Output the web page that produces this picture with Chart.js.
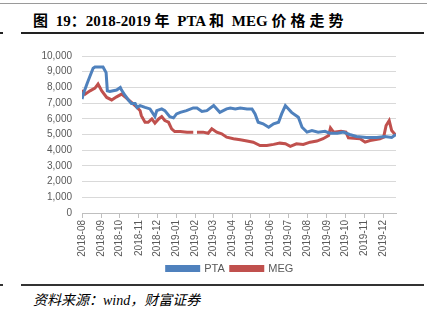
<!DOCTYPE html>
<html><head><meta charset="utf-8">
<script src="https://cdn.jsdelivr.net/npm/chart.js@4/dist/chart.umd.min.js"></script>
<style>
html,body{margin:0;padding:0;background:#fff;width:427px;height:323px;overflow:hidden;position:relative;}
.t{position:absolute;left:33px;top:9px;font:bold 15px "Liberation Serif","Noto Sans CJK SC",serif;color:#000;white-space:nowrap;}
.t .c{letter-spacing:4px;}
.s{position:absolute;left:33px;top:289px;font:italic 14px "Liberation Serif","Noto Sans CJK SC",serif;color:#000;white-space:nowrap;}
.ln{position:absolute;}
#wrap{position:absolute;left:0;top:40px;width:427px;height:244px;}
</style></head><body>
<div class="ln" style="left:0;top:3px;width:427px;height:1px;background:#9a9a9a"></div>
<div class="t"><span class="c">图</span> 19：2018-2019 <span class="c">年</span> PTA <span class="c">和</span> MEG <span class="c">价格走势</span></div>
<div class="ln" style="left:21px;top:32px;width:403px;height:2px;background:#222"></div>
<div class="ln" style="left:0;top:32px;width:3px;height:2px;background:#222"></div>
<div id="wrap"><canvas id="c"></canvas></div>
<div class="ln" style="left:21px;top:284px;width:403px;height:2px;background:#333"></div>
<div class="ln" style="left:0;top:284px;width:3px;height:2px;background:#333"></div>
<div class="s">资料来源：wind，财富证券</div>
<script>
const tickLabels = ['2018-08','2018-09','2018-10','2018-11','2018-12','2019-01','2019-02','2019-03','2019-04','2019-05','2019-06','2019-07','2019-08','2019-09','2019-10','2019-11','2019-12'];
const yTicks = [0,1000,2000,3000,4000,5000,6000,7000,8000,9000,10000];
const ptaDates = ['2018-08-01','2018-08-03','2018-08-09','2018-08-11','2018-08-14','2018-08-19','2018-08-22','2018-09-04','2018-09-09','2018-09-11','2018-09-15','2018-09-26','2018-10-02','2018-10-04','2018-10-10','2018-10-15','2018-10-20','2018-10-26','2018-10-29','2018-11-03','2018-11-11','2018-11-19','2018-11-27','2018-11-30','2018-12-08','2018-12-13','2018-12-21','2018-12-27','2019-01-01','2019-01-07','2019-01-17','2019-01-28','2019-02-03','2019-02-11','2019-02-19','2019-03-02','2019-03-12','2019-03-23','2019-03-29','2019-04-06','2019-04-14','2019-04-25','2019-05-03','2019-05-08','2019-05-13','2019-05-21','2019-05-30','2019-06-07','2019-06-15','2019-06-20','2019-06-26','2019-07-06','2019-07-17','2019-07-23','2019-07-31','2019-08-08','2019-08-18','2019-08-29','2019-09-06','2019-09-18','2019-09-28','2019-10-08','2019-10-19','2019-11-04','2019-11-21','2019-12-04','2019-12-15','2019-12-22'];
const ptaValues = [7260,7570,8210,8420,8730,9220,9300,9300,8940,7780,7740,7830,7990,7830,7470,7200,6980,6980,6730,6840,6730,6630,6140,6520,6630,6520,6140,6060,6310,6410,6520,6690,6690,6470,6520,6840,6410,6630,6690,6630,6690,6630,6630,6310,5780,5680,5460,5680,5780,6310,6840,6410,6100,5460,5150,5250,5150,5200,5080,5080,5150,5000,4870,4810,4810,4870,4810,5000];
const megDates = ['2018-08-01','2018-08-06','2018-08-14','2018-08-22','2018-08-27','2018-09-02','2018-09-10','2018-09-18','2018-09-26','2018-10-04','2018-10-12','2018-10-20','2018-10-29','2018-11-03','2018-11-05','2018-11-11','2018-11-16','2018-11-22','2018-11-27','2018-12-03','2018-12-08','2018-12-13','2018-12-19','2018-12-24','2018-12-29','2019-01-07','2019-01-18','2019-01-28','2019-01-31','2019-02-03','2019-02-13','2019-02-21','2019-02-27','2019-03-07','2019-03-15','2019-03-23','2019-04-03','2019-04-14','2019-04-25','2019-05-05','2019-05-16','2019-05-27','2019-06-07','2019-06-17','2019-06-26','2019-07-04','2019-07-14','2019-07-25','2019-08-05','2019-08-16','2019-08-26','2019-09-04','2019-09-07','2019-09-12','2019-09-24','2019-10-02','2019-10-06','2019-10-25','2019-11-02','2019-11-10','2019-11-26','2019-12-02','2019-12-06','2019-12-11','2019-12-15','2019-12-22'];
const megValues = [7830,7570,7780,7950,8210,7780,7360,7200,7400,7570,7320,7040,6730,6520,6200,5780,5780,5990,5720,5990,6140,5890,5780,5360,5190,5190,5150,5150,null,5150,5150,5080,5360,5150,5040,4830,4730,4660,4580,4510,4300,4300,4370,4450,4410,4240,4410,4370,4510,4580,4730,4940,5420,5150,5210,5150,4790,4730,4510,4620,4730,4830,5570,5890,5250,4940];

const origin = Date.UTC(2018,7,1);
const dayOf = s => { const p = s.split('-').map(Number); return (Date.UTC(p[0],p[1]-1,p[2]||1)-origin)/86400000; };
const monthTicks = tickLabels.map(dayOf);
const toPts = (d,v) => d.map((s,i)=>({x:dayOf(s), y:v[i]}));

const legendShift = {
  id:'legendShift',
  afterLayout(chart){ const l = chart.legend; if (l) { l.left += 32; l.right += 32; } }
};

new Chart(document.getElementById('c'), {
  type:'line',
  plugins:[legendShift],
  data:{datasets:[
    {label:'PTA', data:toPts(ptaDates,ptaValues), borderColor:'#4F81BD', backgroundColor:'#4F81BD', borderWidth:3, pointRadius:0, tension:0, spanGaps:false},
    {label:'MEG', data:toPts(megDates,megValues), borderColor:'#C0504D', backgroundColor:'#C0504D', borderWidth:3, pointRadius:0, tension:0, spanGaps:false}
  ]},
  options:{
    responsive:true, maintainAspectRatio:false, animation:false,
    layout:{padding:{left:0,right:31,top:15,bottom:0}},
    plugins:{
      legend:{position:'bottom', labels:{boxWidth:32, boxHeight:4, padding:6, color:'#595959', font:{family:'Liberation Sans', size:11}}},
      tooltip:{enabled:false}
    },
    scales:{
      x:{type:'linear', min:0, max:508,
        afterBuildTicks: a => { a.ticks = monthTicks.map(v=>({value:v})); },
        afterFit: a => { a.height = 44; },
        ticks:{autoSkip:false, maxRotation:90, minRotation:90, padding:2, color:'#595959', font:{family:'Liberation Sans', size:10},
          callback:(v)=>{ const i = monthTicks.indexOf(v); return i>=0 ? tickLabels[i] : ''; }},
        grid:{drawOnChartArea:false, drawTicks:true, tickLength:5, color:'#bfbfbf'},
        border:{display:true, color:'#bfbfbf'}
      },
      y:{min:0, max:10000,
        afterBuildTicks: a => { a.ticks = yTicks.map(v=>({value:v})); },
        afterFit: a => { a.width = 82; },
        ticks:{autoSkip:false, padding:10, color:'#595959', font:{family:'Liberation Sans', size:10},
          callback:v=>v.toLocaleString('en-US')},
        grid:{color:'#d9d9d9', drawTicks:false},
        border:{display:false}
      }
    }
  }
});
</script>
</body></html>
